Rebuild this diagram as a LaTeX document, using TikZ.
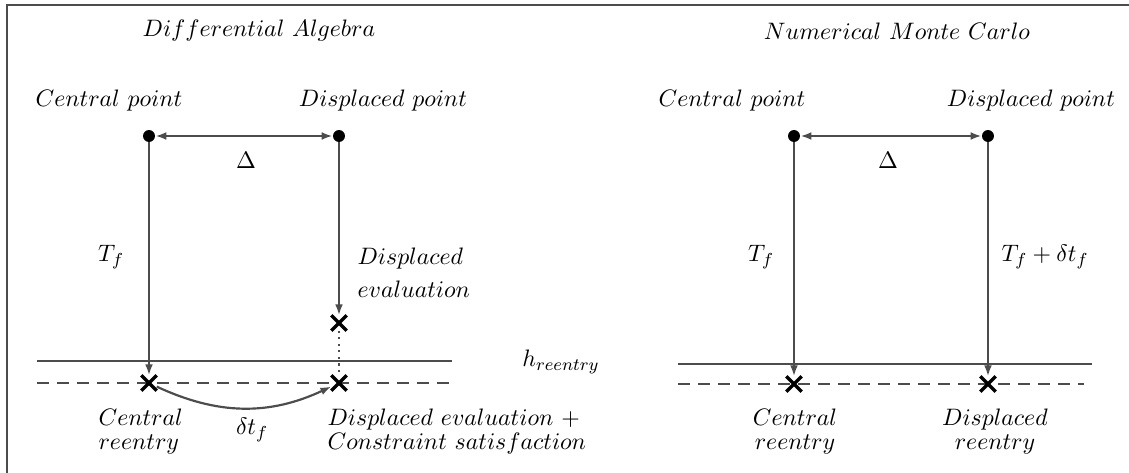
\documentclass[tikz,border=0pt]{standalone}
\usepackage{amsmath, amssymb}
\usetikzlibrary{arrows.meta, shapes.misc}

\begin{document}
\begin{tikzpicture}[x=0.46pt, y=-0.46pt,
        trace/.style={draw=black!70, line width=1pt},
        arr/.style={trace, -{Latex[length=5pt,width=3.6pt]}},
        darr/.style={trace, {Latex[length=5pt,width=3.6pt]}-{Latex[length=5pt,width=3.6pt]}},
        dot/.style={circle, fill=black, inner sep=0pt, minimum size=5.5pt},
        xmark/.style={cross out, draw=black, line width=1.5pt, inner sep=0pt, minimum size=5.6pt},
        dashline/.style={trace, dash pattern=on 5.5pt off 3.7pt},
        lbl/.style={align=center, inner sep=1pt, font=\fontsize{11.1pt}{11pt}\selectfont}]
    \useasboundingbox (0,0) rectangle (1129,473);

        % Moldura
        \draw[black!70, line width=0.5pt] (7,473) -- (7,5) -- (1129,5);

        % Differential Algebra
        \node[lbl] (titA) at (259,31) {$Differential\ Algebra$};
        \node[lbl] (cplA) at (109,101) {$Central\ point$};
        \node[lbl] (dplA) at (383,101) {$Displaced\ point$};

        \draw[trace] (37,361) coordinate (hA1) -- (452,361) coordinate (hA2);
        \draw[dashline] (37,383) coordinate (dA1) -- (452,383) coordinate (dA2);

        \node[dot] (cpA) at (149,136) {};
        \node[dot] (dpA) at (339,136) {};
        \node[xmark] (evA) at (339,323) {};
        \node[xmark] (crA) at (149,383) {};
        \node[xmark] (drA) at (339,383) {};

        \draw[darr] (cpA) -- (dpA);
        \draw[arr] (cpA) -- (crA);
        \draw[arr] (dpA) -- (evA);
        \draw[trace, dotted] (evA) -- (drA);
        \draw[arr] (crA) to[bend right=25] (drA);

        \node[lbl] (delA) at (246,160) {$\Delta$};
        \node[lbl] (tfA) at (111,257) {$T_f$};
        \node[lbl, align=left, anchor=west] (evlA) at (355,273) {$Displaced$\\[4pt]$evaluation$};
        \node[lbl] (hre) at (561,362) {$h_{reentry}$};
        \node[lbl] (dtA) at (252,430) {$\delta t_f$};
        \node[lbl, align=left, anchor=west] (crlA) at (96,432) {$Central$\\$reentry$};
        \node[lbl, align=left, anchor=west] (drlA) at (325,432) {$Displaced\ evaluation\ +$\\$Constraint\ satisfaction$};

        % Numerical Monte Carlo
        \node[lbl] (titB) at (897,31) {$Numerical\ Monte\ Carlo$};
        \node[lbl] (cplB) at (732,101) {$Central\ point$};
        \node[lbl] (dplB) at (1031,101) {$Displaced\ point$};

        \draw[trace] (678,364) coordinate (hB1) -- (1092,364) coordinate (hB2);
        \draw[dashline] (678,384) coordinate (dB1) -- (1084,384) coordinate (dB2);

        \node[dot] (cpB) at (794,136) {};
        \node[dot] (dpB) at (988,136) {};
        \node[xmark] (crB) at (794,384) {};
        \node[xmark] (drB) at (988,384) {};

        \draw[darr] (cpB) -- (dpB);
        \draw[arr] (cpB) -- (crB);
        \draw[arr] (dpB) -- (drB);

        \node[lbl] (delB) at (888,160) {$\Delta$};
        \node[lbl] (tfB) at (761,257) {$T_f$};
        \node[lbl] (tdB) at (1045,257) {$T_f + \delta t_f$};
        \node[lbl] (crlB) at (795,432) {$Central$\\$reentry$};
        \node[lbl] (drlB) at (995,432) {$Displaced$\\$reentry$};
    \end{tikzpicture}
\end{document}
